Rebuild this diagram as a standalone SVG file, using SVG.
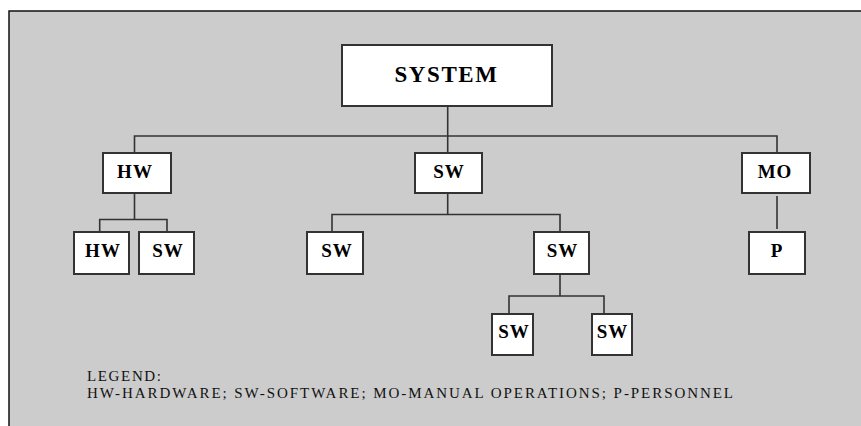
<svg xmlns="http://www.w3.org/2000/svg" width="861" height="426" viewBox="0 0 861 426">
<style>
.box{fill:#ffffff;stroke:#333333;stroke-width:2}
.lbl{font-family:"Liberation Serif","Times New Roman",serif;font-weight:bold;font-size:19px;letter-spacing:1px;fill:#000;text-anchor:middle}
.big{font-size:23px;letter-spacing:1.6px}
.con{fill:none;stroke:#333333;stroke-width:1.6}
.leg{font-family:"Liberation Serif","Times New Roman",serif;font-size:15px;fill:#111}
</style>
<rect x="0" y="0" width="861" height="426" fill="#ffffff"/>
<rect x="9" y="11" width="900" height="500" fill="#cccccc" stroke="#111111" stroke-width="1.5"/>
<g id="connectors">
<path class="con" d="M447.7 106 V153 M134.5 153 V136 H777 V153"/>
<path class="con" d="M134.5 193 V219.5 M99.7 232 V219.5 H167 V232"/>
<path class="con" d="M447.7 193 V214.5 M332 232 V214.5 H560 V232"/>
<path class="con" d="M560 274 V296 M509 314 V296 H604 V314"/>
<path class="con" d="M777 196 V229"/>
</g>
<g id="system"><rect class="box" x="342" y="45" width="210" height="61"/><text class="lbl big" x="446.5" y="82">SYSTEM</text></g>
<g id="hw"><rect class="box" x="103" y="153" width="68" height="40"/><text class="lbl" x="135" y="178">HW</text></g>
<g id="sw"><rect class="box" x="415" y="153" width="67" height="40"/><text class="lbl" x="449" y="178">SW</text></g>
<g id="mo"><rect class="box" x="742" y="153" width="68" height="40"/><text class="lbl" x="775" y="178">MO</text></g>
<g id="hw-hw"><rect class="box" x="74" y="232" width="55" height="42"/><text class="lbl" x="103" y="257">HW</text></g>
<g id="hw-sw"><rect class="box" x="139" y="232" width="55" height="42"/><text class="lbl" x="168" y="257">SW</text></g>
<g id="sw-sw1"><rect class="box" x="307" y="232" width="56" height="42"/><text class="lbl" x="337" y="257">SW</text></g>
<g id="sw-sw2"><rect class="box" x="534" y="232" width="55" height="42"/><text class="lbl" x="562.5" y="257">SW</text></g>
<g id="sw-sw2-sw1"><rect class="box" x="492" y="314" width="41" height="41"/><text class="lbl" x="514" y="338">SW</text></g>
<g id="sw-sw2-sw2"><rect class="box" x="592" y="314" width="40" height="41"/><text class="lbl" x="612.5" y="338">SW</text></g>
<g id="p"><rect class="box" x="749" y="232" width="56" height="42"/><text class="lbl" x="777" y="257">P</text></g>
<g id="legend">
<text class="leg" x="87" y="381" textLength="74" lengthAdjust="spacing">LEGEND:</text>
<text class="leg" x="87" y="398" textLength="646" lengthAdjust="spacing">HW-HARDWARE; SW-SOFTWARE; MO-MANUAL OPERATIONS; P-PERSONNEL</text>
</g>
</svg>
